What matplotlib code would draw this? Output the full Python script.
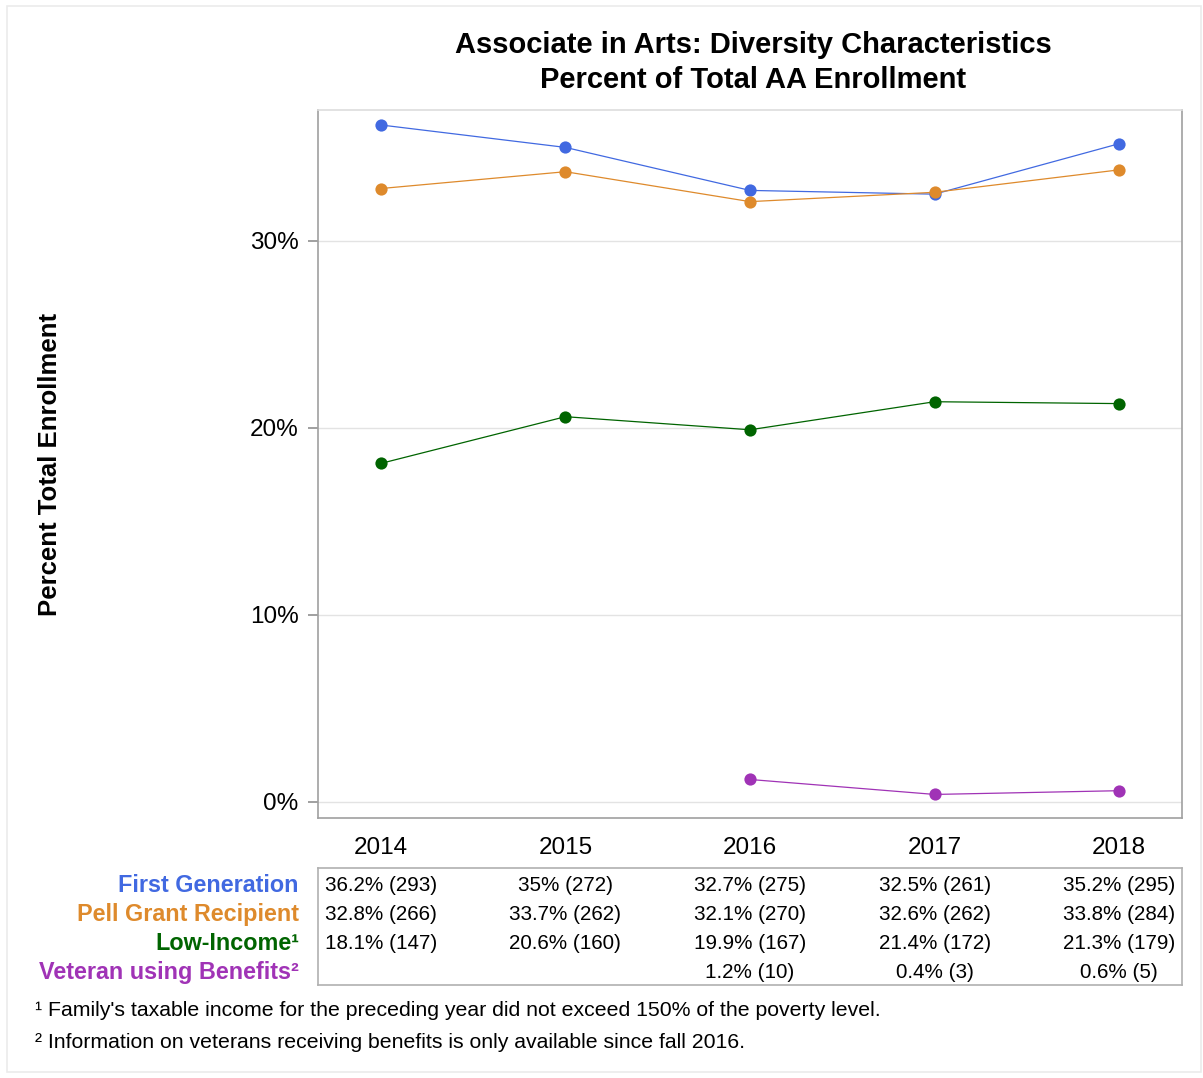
import matplotlib
matplotlib.use('Agg')
from matplotlib import pyplot as pl
from matplotlib.patches import Rectangle
import matplotlib.transforms as mtransforms
import numpy as np

pl.rcParams['font.family'] = ['Liberation Sans', 'DejaVu Sans']

years = [2014, 2015, 2016, 2017, 2018]

first_gen_pct = [36.2, 35.0, 32.7, 32.5, 35.2]
first_gen_n = [293, 272, 275, 261, 295]

pell_pct = [32.8, 33.7, 32.1, 32.6, 33.8]
pell_n = [266, 262, 270, 262, 284]

low_income_pct = [18.1, 20.6, 19.9, 21.4, 21.3]
low_income_n = [147, 160, 167, 172, 179]

# veteran data only exists from fall 2016 onwards
veteran_pct = [None, None, 1.2, 0.4, 0.6]
veteran_n = [None, None, 10, 3, 5]

series_names = ['First Generation', 'Pell Grant Recipient',
                'Low-Income\u00b9', 'Veteran using Benefits\u00b2']
series_pct = [first_gen_pct, pell_pct, low_income_pct, veteran_pct]
series_n = [first_gen_n, pell_n, low_income_n, veteran_n]
colors = ['#4169E1', '#DE8A2C', '#006400', '#A033B6']

yticks = [0, 10, 20, 30]
ytick_labels = ['0%', '10%', '20%', '30%']

footnotes = [
    '\u00b9 Family\'s taxable income for the preceding year did not exceed '
    '150% of the poverty level.',
    '\u00b2 Information on veterans receiving benefits is only available '
    'since fall 2016.',
]

W, H = 1203, 1078
fig = pl.figure(figsize=(W / 100, H / 100), dpi=100)

# outer frame
fig.patches.append(Rectangle((7 / W, 1 - 1072 / H), 1194 / W, 1066 / H,
                             transform=fig.transFigure, fill=False,
                             edgecolor='#EBEBEB', linewidth=1.2))

# main line chart
ax = fig.add_axes([318 / W, 1 - 818 / H, 864 / W, 708 / H])

for pct, c in zip(series_pct, colors):
    xs = [x for x, v in zip(years, pct) if v is not None]
    vs = [v for v in pct if v is not None]
    ax.plot(xs, vs, color=c, linewidth=0.9, marker='o',
            markersize=8.8, markeredgewidth=0, zorder=3)

ax.set_xlim(2013.66, 2018.34)
ax.set_ylim(-0.86, 37.0)
ax.set_yticks(yticks)
ax.set_yticklabels(ytick_labels)
ax.set_xticks(years)
ax.set_xticklabels([str(y) for y in years])
ax.tick_params(axis='y', length=7, color='#909090', width=1.2,
               labelsize=17.5, pad=7)
ax.tick_params(axis='x', length=0, labelsize=17.5, pad=14)
ax.grid(axis='y', color='#E3E3E3', linewidth=1)
ax.set_axisbelow(True)

for side in ['left', 'bottom', 'right']:
    ax.spines[side].set_color('#A0A0A0')
    ax.spines[side].set_linewidth(1.2)
ax.spines['top'].set_color('#DDDDDD')
ax.spines['top'].set_linewidth(1.2)

ax.set_ylabel('Percent Total Enrollment', fontsize=18.5, fontweight='bold',
              labelpad=0)
ax.yaxis.set_label_coords(-0.296, 0.5)

fig.text(753 / W, 1 - 45 / H,
         'Associate in Arts: Diversity Characteristics',
         ha='center', va='center', fontsize=21, fontweight='bold')
fig.text(753 / W, 1 - 80 / H, 'Percent of Total AA Enrollment',
         ha='center', va='center', fontsize=21, fontweight='bold')

# data table underneath
tab = fig.add_axes([318 / W, 1 - 985 / H, 864 / W, 117 / H])
tab.set_xlim(ax.get_xlim())
tab.set_ylim(3.45, -0.62)
tab.set_xticks([])
tab.set_yticks([])
for side in tab.spines:
    tab.spines[side].set_color('#B0B0B0')
    tab.spines[side].set_linewidth(1.2)

label_trans = mtransforms.blended_transform_factory(tab.transAxes,
                                                    tab.transData)
for i, (name, pct, n, c) in enumerate(zip(series_names, series_pct,
                                          series_n, colors)):
    tab.text(-0.022, i, name, transform=label_trans, ha='right',
             va='center', fontsize=16.8, fontweight='bold', color=c,
             clip_on=False)
    for x, v, k in zip(years, pct, n):
        if v is None:
            continue
        txt = '{:g}% ({})'.format(v, k)
        tab.text(x, i, txt, ha='center', va='center', fontsize=14.9)

fig.text(35 / W, 1 - 1011 / H, footnotes[0], ha='left', va='center',
         fontsize=15.3)
fig.text(35 / W, 1 - 1043 / H, footnotes[1], ha='left', va='center',
         fontsize=15.3)

fig.savefig('out.png', dpi=100)
